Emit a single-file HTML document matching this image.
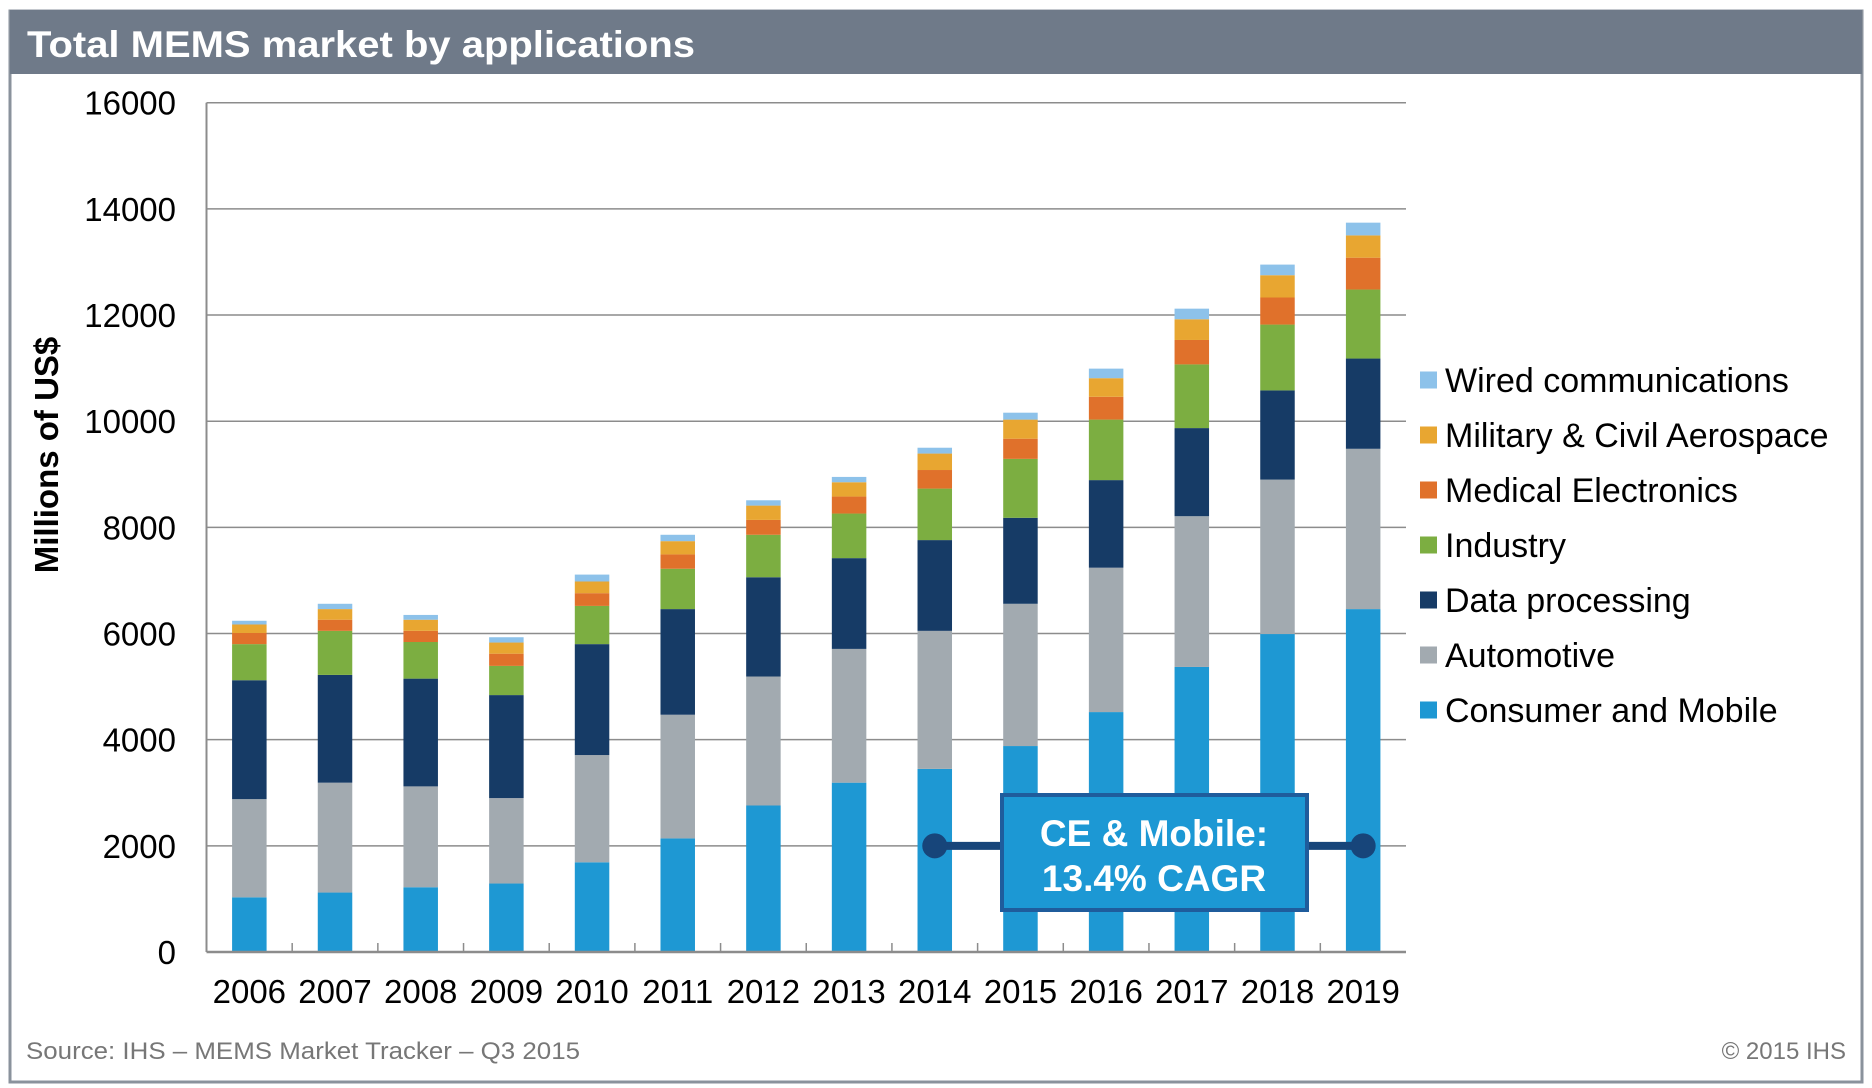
<!DOCTYPE html>
<html><head><meta charset="utf-8"><style>
html,body{margin:0;padding:0;background:#fff;}
svg{display:block;font-family:"Liberation Sans",Arial,sans-serif;}
</style></head><body>
<svg id="chart" width="1872" height="1088" viewBox="0 0 1872 1088">
<rect x="0" y="0" width="1872" height="1088" fill="#fff"/>
<rect x="10" y="11" width="1852" height="1071" fill="#fff" stroke="#8a929c" stroke-width="3"/>
<rect x="10" y="10" width="1852" height="64" fill="#6f7a89"/>
<text x="27" y="57" font-size="37" font-weight="bold" fill="#fff" textLength="668" lengthAdjust="spacingAndGlyphs">Total MEMS market by applications</text>
<g id="grid"></g>
<g id="bars"></g>
<g id="axes"></g>
<text transform="translate(58,455) rotate(-90)" text-anchor="middle" font-size="33" font-weight="bold" fill="#000">Millions of US$</text>
<g id="legend"></g>
<g id="annotation"></g>
<text x="26" y="1059" font-size="24" fill="#777" textLength="554" lengthAdjust="spacingAndGlyphs">Source: IHS – MEMS Market Tracker – Q3 2015</text>
<text x="1846" y="1059" font-size="24" fill="#777" text-anchor="end">© 2015 IHS</text>
</svg>
<script>
const years = ["2006","2007","2008","2009","2010","2011","2012","2013","2014","2015","2016","2017","2018","2019"];
const consumer = [1030,1120,1220,1290,1690,2140,2760,3190,3450,3880,4520,5370,5990,6460];
const automotive = [1850,2070,1900,1610,2020,2330,2430,2520,2600,2680,2720,2840,2910,3020];
const dataProcessing = [2240,2030,2030,1940,2090,1990,1870,1710,1710,1620,1650,1660,1680,1700];
const industry = [680,830,690,550,720,760,800,840,970,1110,1140,1200,1240,1300];
const medical = [210,210,210,230,240,270,280,320,350,380,430,460,510,600];
const military = [160,200,210,210,220,250,270,270,310,360,350,390,420,420];
const wired = [70,100,90,100,130,120,100,100,110,130,180,200,200,240];
const seriesNames = ["Consumer and Mobile","Automotive","Data processing","Industry","Medical Electronics","Military & Civil Aerospace","Wired communications"];
const yTicks = [0,2000,4000,6000,8000,10000,12000,14000,16000];
const cagrValue = 2000;
const cagrFrom = 8, cagrTo = 13;

const series = [consumer,automotive,dataProcessing,industry,medical,military,wired];
const colors = ["#1e98d3","#a2aab0","#163b66","#7cae41","#e0712b","#e8a631","#8dc2ea"];
const keys = ["consumer","automotive","data-processing","industry","medical","military","wired"];
const NS="http://www.w3.org/2000/svg";
const X0=206.5, X1=1406, Y0=952, YT=102.7, YMAX=16000;
const band=(X1-X0)/years.length, barW=34.5;
const y=v=>Y0-(v/YMAX)*(Y0-YT);
const xc=i=>X0+band*(i+0.5);
function mk(tag,attrs,parent){const e=document.createElementNS(NS,tag);for(const k in attrs)e.setAttribute(k,attrs[k]);parent.appendChild(e);return e;}
const grid=document.getElementById('grid'), axes=document.getElementById('axes'), bars=document.getElementById('bars');
yTicks.forEach(t=>{
  if(t>0){const l=mk('line',{x1:X0,x2:X1,y1:y(t),y2:y(t),stroke:'#8c8c8c','stroke-width':1.5},grid);
  
  }
  const tx=mk('text',{x:176,y:y(t)+12,'text-anchor':'end','font-size':33,fill:'#000'},axes);
  tx.textContent=t;
  
  
});
const ya=mk('line',{x1:X0,x2:X0,y1:YT,y2:Y0,stroke:'#8c8c8c','stroke-width':2},axes);


const xa=mk('line',{x1:X0,x2:X1,y1:Y0,y2:Y0,stroke:'#8c8c8c','stroke-width':2.5},axes);


years.forEach((yr,i)=>{
  if(i>0){const tk=mk('line',{x1:X0+band*i,x2:X0+band*i,y1:Y0-9,y2:Y0,stroke:'#8c8c8c','stroke-width':1.5},axes);
  
  }
  const tx=mk('text',{x:xc(i),y:1003,'text-anchor':'middle','font-size':33,fill:'#000'},axes);
  tx.textContent=yr;
  
  
  let cum=0;
  series.forEach((s,k)=>{
    const r=mk('rect',{x:xc(i)-barW/2,y:y(cum+s[i]),width:barW,height:y(cum)-y(cum+s[i]),fill:colors[k]},bars);
    
    
    cum+=s[i];
  });
});
const legend=document.getElementById('legend');
for(let k=series.length-1,row=0;k>=0;k--,row++){
  const cy=380+row*55;
  const sq=mk('rect',{x:1420,y:cy-8.5,width:17,height:17,fill:colors[k]},legend);
  
  
  const tx=mk('text',{x:1445,y:cy+12,'font-size':34,fill:'#000'},legend);
  tx.textContent=seriesNames[k];
  
  
}
const ann=document.getElementById('annotation');
const ay=y(cagrValue);
const ln=mk('line',{x1:xc(cagrFrom),x2:xc(cagrTo),y1:ay,y2:ay,stroke:'#17457a','stroke-width':8},ann);


[cagrFrom,cagrTo].forEach(i=>{const c=mk('circle',{cx:xc(i),cy:ay,r:12.5,fill:'#17457a'},ann);

});
const box=mk('rect',{x:1002,y:795,width:305,height:115,fill:'#1c98d4',stroke:'#1f5c9c','stroke-width':4},ann);


const t1=mk('text',{x:1154,y:846,'text-anchor':'middle','font-size':37,'font-weight':'bold',fill:'#fff'},ann);
t1.textContent='CE & Mobile:';


const t2=mk('text',{x:1154,y:891,'text-anchor':'middle','font-size':37,'font-weight':'bold',fill:'#fff'},ann);
t2.textContent='13.4% CAGR';


</script>
</body></html>
